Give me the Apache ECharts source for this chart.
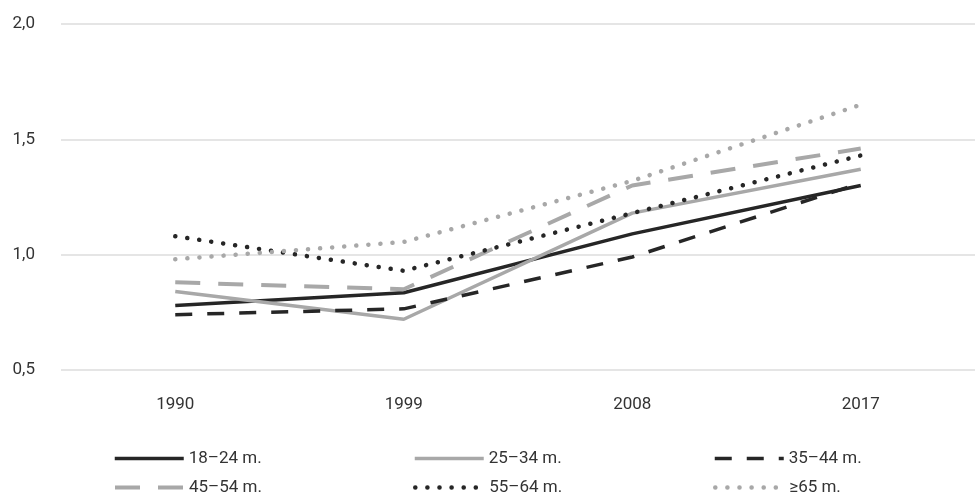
<!DOCTYPE html>
<html><head><meta charset="utf-8">
<script src="https://cdn.jsdelivr.net/npm/echarts@6/dist/echarts.min.js"></script>
<style>html,body{margin:0;padding:0;background:#fff}#c{width:975px;height:497px}</style>
</head><body><div id="c"></div>
<script>
const years = ['1990','1999','2008','2017'];
const s1824 = [0.78, 0.835, 1.09, 1.30];
const s2534 = [0.84, 0.72, 1.18, 1.37];
const s3544 = [0.74, 0.765, 0.99, 1.31];
const s4554 = [0.88, 0.85, 1.30, 1.46];
const s5564 = [1.08, 0.93, 1.18, 1.43];
const s65 = [0.98, 1.055, 1.32, 1.65];
const names = ['18–24 m.','25–34 m.','35–44 m.','45–54 m.','55–64 m.','≥65 m.'];

const FONT = 'Roboto, "Noto Sans", sans-serif';
const BLACK = '#262626', GRAY = '#a8a8a8';
const styles = [
  {color: BLACK, width: 3.5, type: 'solid', cap: 'butt'},
  {color: GRAY, width: 3.5, type: 'solid', cap: 'butt'},
  {color: BLACK, width: 3.5, type: [17, 15], cap: 'butt'},
  {color: GRAY, width: 4, type: [25, 18], cap: 'butt'},
  {color: BLACK, width: 4.5, type: [0.1, 12], cap: 'round'},
  {color: GRAY, width: 4.5, type: [0.1, 12], cap: 'round'}
];
const data = [s1824, s2534, s3544, s4554, s5564, s65];
const legPos = [[113,450],[413,450],[713,450],[113,479],[413,479],[713,479]];

const chart = echarts.init(document.getElementById('c'), null, {renderer: 'canvas'});
chart.setOption({
  animation: false,
  backgroundColor: '#fff',
  textStyle: {fontFamily: FONT},
  grid: {left: 61, right: -6, top: 24, bottom: 127},
  legend: names.map((n, i) => ({
    data: [n], left: legPos[i][0], top: legPos[i][1], padding: 0,
    itemWidth: 69, itemHeight: 14, itemGap: 3,
    itemStyle: {opacity: 0},
    lineStyle: {width: styles[i].width, type: styles[i].type, cap: styles[i].cap, color: styles[i].color},
    textStyle: {fontFamily: FONT, fontSize: 17, color: '#333'}
  })),
  xAxis: {
    type: 'category', data: years, boundaryGap: true,
    axisLine: {show: false}, axisTick: {show: false},
    axisLabel: {fontFamily: FONT, fontSize: 17, color: '#333', margin: 26}
  },
  yAxis: {
    type: 'value', min: 0.5, max: 2.0, interval: 0.5,
    axisLine: {show: false}, axisTick: {show: false},
    axisLabel: {fontFamily: FONT, fontSize: 17, color: '#333', margin: 26,
      formatter: v => v.toFixed(1).replace('.', ',')},
    splitLine: {lineStyle: {color: '#dcdcdc', width: 1.5}}
  },
  series: names.map((n, i) => ({
    name: n, type: 'line', data: data[i], symbol: 'none',
    lineStyle: styles[i], itemStyle: {color: styles[i].color}
  }))
});
</script></body></html>
